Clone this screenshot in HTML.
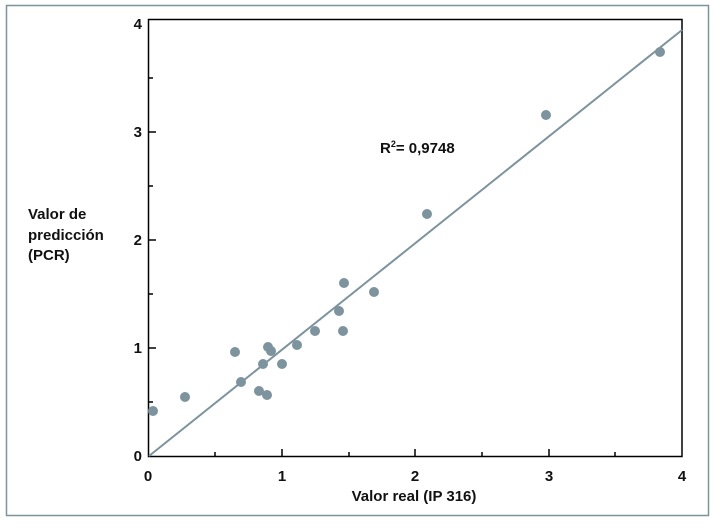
<!DOCTYPE html>
<html><head><meta charset="utf-8"><style>
body{margin:0;background:#fff}
svg text{font-family:"Liberation Sans",sans-serif;fill:#111}
</style></head><body>
<svg width="715" height="526" xmlns="http://www.w3.org/2000/svg">
<rect x="6.5" y="5.5" width="702" height="510" fill="#fff" stroke="#7d939d" stroke-width="1.5"/>
<g stroke="#000" stroke-width="1.5" fill="none">
<rect x="148.5" y="19.5" width="533.5" height="437"/>
<path d="M282,457v-8M415,457v-8M549,457v-8M215,457v-5M349,457v-5M482,457v-5M615,457v-5"/>
<path d="M148,348h8M148,240h8M148,132h8M148,402h5M148,294h5M148,186h5M148,78h5"/>
</g>
<line x1="149" y1="456" x2="682" y2="30" stroke="#7d939d" stroke-width="2"/>
<g fill="#7d939d">
<circle cx="153" cy="411" r="5"/><circle cx="185" cy="397" r="5"/><circle cx="235" cy="352" r="5"/>
<circle cx="241" cy="382" r="5"/><circle cx="259" cy="391" r="5"/><circle cx="263" cy="364" r="5"/>
<circle cx="268" cy="347" r="5"/><circle cx="271" cy="351" r="5"/><circle cx="267" cy="395" r="5"/>
<circle cx="282" cy="364" r="5"/><circle cx="297" cy="345" r="5"/><circle cx="315" cy="331" r="5"/>
<circle cx="339" cy="311" r="5"/><circle cx="343" cy="331" r="5"/><circle cx="344" cy="283" r="5"/>
<circle cx="374" cy="292" r="5"/><circle cx="427" cy="214" r="5"/><circle cx="546" cy="115" r="5"/>
<circle cx="660" cy="52" r="5"/>
</g>
<g font-size="15" font-weight="bold" text-anchor="middle">
<text x="148" y="481">0</text><text x="282" y="481">1</text><text x="415" y="481">2</text><text x="549" y="481">3</text><text x="682" y="481">4</text>
<text x="414" y="501" font-size="15">Valor real (IP 316)</text>
</g>
<g font-size="15" font-weight="bold" text-anchor="end">
<text x="142" y="461">0</text><text x="142" y="353">1</text><text x="142" y="245">2</text><text x="142" y="137">3</text><text x="142" y="29">4</text>
</g>
<g font-size="15" font-weight="bold">
<text x="28" y="219">Valor de</text><text x="28" y="240">predicción</text><text x="28" y="260">(PCR)</text>
<text x="380" y="153">R<tspan font-size="9" dy="-6">2</tspan><tspan dy="6">= 0,9748</tspan></text>
</g>
</svg>
</body></html>
